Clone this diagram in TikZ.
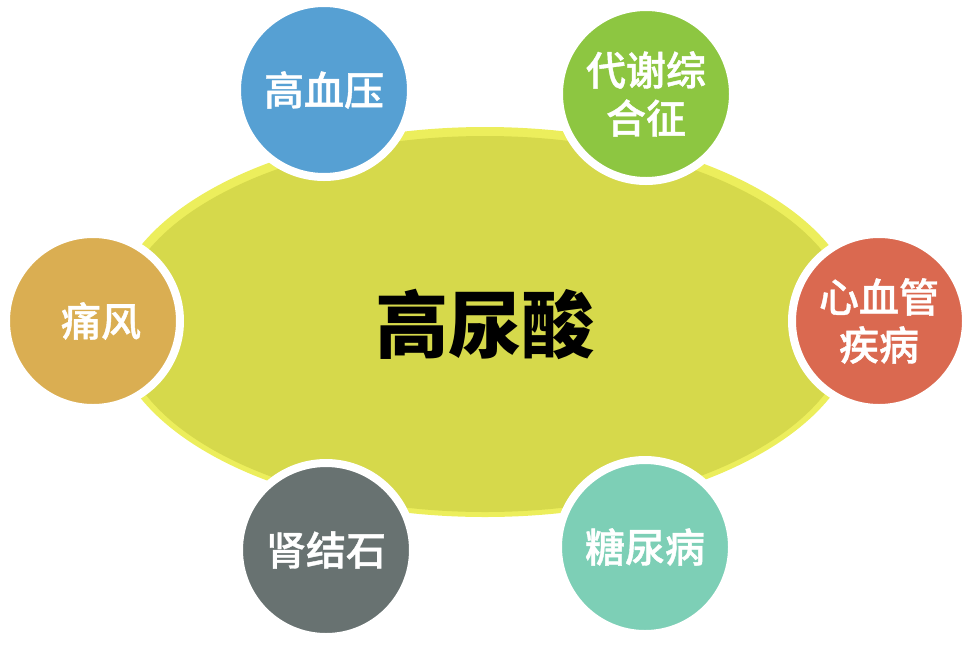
\documentclass[tikz,border=0pt]{standalone}
\usepackage{fontspec}
\newfontfamily\cjk{Noto Sans CJK SC}
\newfontfamily\cjkmed{Noto Sans CJK SC}[UprightFont={* Medium}, FakeBold=1]
\usepackage{tikz}
\usetikzlibrary{positioning, shapes.geometric}

\definecolor{rimyellow}{HTML}{ECEE5C}
\definecolor{coreyellow}{HTML}{D6D94B}
\definecolor{bpblue}{HTML}{56A0D3}
\definecolor{metgreen}{HTML}{8DC641}
\definecolor{cvred}{HTML}{DA6950}
\definecolor{goutgold}{HTML}{DAAE52}
\definecolor{stonegray}{HTML}{687271}
\definecolor{diabteal}{HTML}{7DCFB6}

\begin{document}
\begin{tikzpicture}[x=0.75pt, y=-0.75pt,
        disease/.style={circle, draw=white, line width=6pt, minimum size=130.5pt, inner sep=0pt,
            text=white, align=center, font=\cjkmed\fontsize{30}{36}\selectfont}]
        \useasboundingbox (0,0) rectangle (971,644);
        % Nodes
        \node (rim) [ellipse, fill=rimyellow, minimum width=561pt, minimum height=292.5pt] at (485,322) {};
        \node (uric) [ellipse, fill=coreyellow, minimum width=549pt, minimum height=282pt,
            font=\cjk\bfseries\fontsize{55}{66}\selectfont] at (485,324) {高尿酸};
        \node (bp) [disease, fill=bpblue] at (324,90) {高血压};
        \node (metab) [disease, fill=metgreen] at (646,94) {代谢综\\合征};
        \node (gout) [disease, fill=goutgold] at (93,321) {\hspace{12pt}痛风};
        \node (cardio) [disease, fill=cvred] at (879,321) {心血管\\疾病};
        \node (stone) [disease, fill=stonegray] at (326,550) {肾结石};
        \node (diab) [disease, fill=diabteal] at (645,547) {糖尿病};
    \end{tikzpicture}
\end{document}
